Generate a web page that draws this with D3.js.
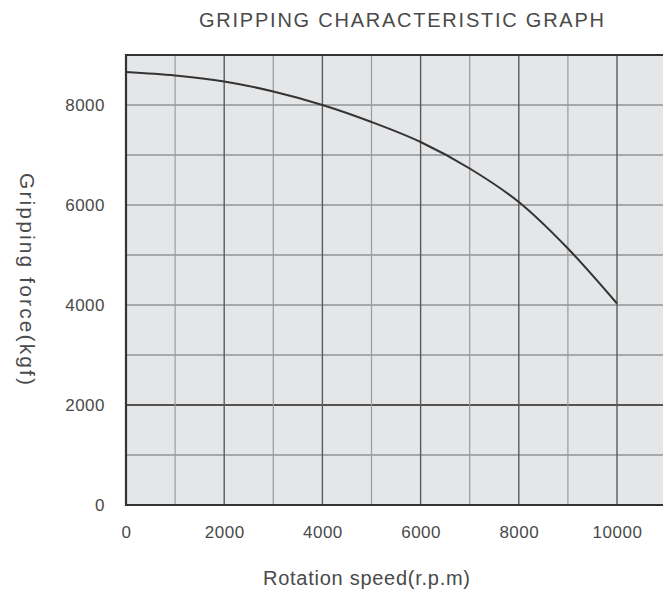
<!DOCTYPE html>
<html>
  <head>
    <meta charset="utf-8">
    <title>Gripping characteristic graph</title>
    <script src="https://d3js.org/d3.v7.min.js"></script>
    <style>
      body { margin: 0; background: #fff; }
      text { font-family: "Liberation Sans", Arial, sans-serif; fill: #4a4a4a; }
    </style>
  </head>
  <body>
    <svg id="chart" width="663" height="597"></svg>
    <script>
      // data
      speeds = [0, 1000, 2000, 3000, 4000, 5000, 6000, 7000, 8000, 9000, 10000];
      forces = [8660, 8590, 8470, 8270, 8000, 7660, 7260, 6730, 6060, 5130, 4030];
      xTicks = [0, 2000, 4000, 6000, 8000, 10000];
      yTicks = [0, 2000, 4000, 6000, 8000];
      xMinor = d3.range(1000, 11000, 2000);
      yGrid = d3.range(1000, 9000, 1000);

      chart = d3.select("#chart");
      width = 663;
      height = 597;

      x = d3.scaleLinear().domain([0, 10000]).range([126, 617]);
      y = d3.scaleLinear().domain([0, 9000]).range([505, 55]);
      xEnd = width;

      // plot background
      chart.append("rect")
        .attr("x", x(0))
        .attr("y", y(9000))
        .attr("width", xEnd - x(0))
        .attr("height", y(0) - y(9000))
        .attr("fill", "#e5e6e8");

      // grid
      chart.append("g").selectAll("line")
        .data(yGrid)
        .join("line")
          .attr("x1", x(0))
          .attr("x2", xEnd)
          .attr("y1", d => y(d))
          .attr("y2", d => y(d))
          .attr("stroke", d => d == 2000 ? "#222" : "#6a6a6a")
          .attr("stroke-width", d => d == 2000 ? 1.5 : 1.2);
      chart.append("g").selectAll("line")
        .data(xMinor)
        .join("line")
          .attr("x1", d => x(d))
          .attr("x2", d => x(d))
          .attr("y1", y(0))
          .attr("y2", y(9000))
          .attr("stroke", "#9a9a9a")
          .attr("stroke-width", 1.2);
      chart.append("g").selectAll("line")
        .data(xTicks.slice(1))
        .join("line")
          .attr("x1", d => x(d))
          .attr("x2", d => x(d))
          .attr("y1", y(0))
          .attr("y2", y(9000))
          .attr("stroke", "#5a5a5a")
          .attr("stroke-width", 1.4);

      // frame (left, top, bottom)
      chart.append("path")
        .attr("d", "M" + xEnd + "," + y(9000) + "H" + x(0) + "V" + y(0) + "H" + xEnd)
        .attr("fill", "none")
        .attr("stroke", "#333")
        .attr("stroke-width", 2.2);

      // curve
      line = d3.line()
        .x(d => x(d))
        .y((d, i) => y(forces[i]))
        .curve(d3.curveMonotoneX);
      chart.append("path")
        .attr("d", line(speeds))
        .attr("fill", "none")
        .attr("stroke", "#333")
        .attr("stroke-width", 2);

      // axes
      xAxis = d3.axisBottom(x).tickValues(xTicks).tickFormat(d3.format("d")).tickSize(0).tickPadding(21);
      chart.append("g")
        .attr("transform", "translate(0," + y(0) + ")")
        .call(xAxis)
        .call(g => g.select(".domain").remove())
        .selectAll("text")
          .attr("font-size", 17)
          .attr("letter-spacing", 0.5)
          .attr("font-family", null)
          .attr("fill", "#5a5a5a");
      yAxis = d3.axisLeft(y).tickValues(yTicks).tickFormat(d3.format("d")).tickSize(0).tickPadding(21);
      chart.append("g")
        .attr("transform", "translate(" + x(0) + ",0)")
        .call(yAxis)
        .call(g => g.select(".domain").remove())
        .selectAll("text")
          .attr("font-size", 17)
          .attr("letter-spacing", 0.5)
          .attr("font-family", null)
          .attr("fill", "#5a5a5a");

      // titles
      chart.append("text")
        .attr("x", 199)
        .attr("y", 27)
        .attr("font-size", 20)
        .attr("textLength", 405)
        .attr("lengthAdjust", "spacing")
        .text("GRIPPING CHARACTERISTIC GRAPH");
      chart.append("text")
        .attr("x", 263)
        .attr("y", 585)
        .attr("font-size", 20)
        .attr("textLength", 207)
        .attr("lengthAdjust", "spacing")
        .text("Rotation speed(r.p.m)");
      chart.append("text")
        .attr("transform", "translate(20,173) rotate(90)")
        .attr("font-size", 21)
        .attr("textLength", 212)
        .attr("lengthAdjust", "spacing")
        .text("Gripping force(kgf)");
    </script>
  </body>
</html>
